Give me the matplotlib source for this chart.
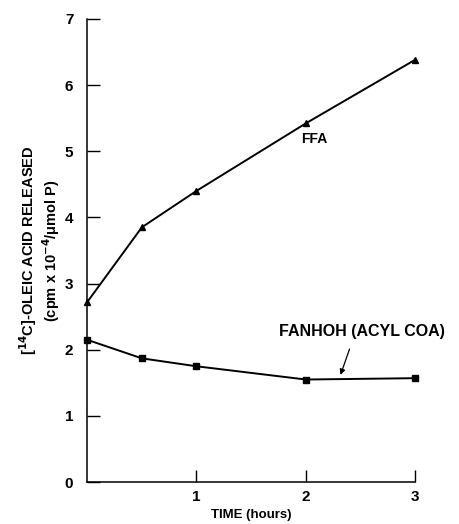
import matplotlib.pyplot as plt

plt.rcParams['font.family'] = ['Liberation Sans', 'DejaVu Sans']
plt.rcParams['font.weight'] = 'bold'

# data
time_h = [0, 0.5, 1, 2, 3]
ffa = [2.72, 3.85, 4.40, 5.42, 6.38]
fanhoh = [2.15, 1.87, 1.75, 1.55, 1.57]

fig = plt.figure(figsize=(4.59, 5.24), dpi=100)
ax = fig.add_axes([0.19, 0.080, 0.714, 0.884])

ax.plot(time_h, ffa, color='black', linewidth=1.4, marker='^', markersize=5, clip_on=False)
ax.plot(time_h, fanhoh, color='black', linewidth=1.4, marker='s', markersize=4, clip_on=False)

ax.set_xlim(0, 3)
ax.set_ylim(0, 7)
ax.set_xticks([1, 2, 3])
ax.set_yticks(range(0, 8))
ax.tick_params(direction='in', length=9, width=1, labelsize=11)
ax.tick_params(axis='x', pad=6)
ax.tick_params(axis='y', pad=10)
for s in ['top', 'right']:
    ax.spines[s].set_visible(False)
for s in ['left', 'bottom']:
    ax.spines[s].set_linewidth(1.1)

ax.text(1.96, 5.12, 'FFA', fontsize=10, fontweight='bold')
ax.text(1.76, 2.2, 'FANHOH (ACYL COA)', fontsize=11.5, fontweight='bold')
ax.annotate('', xy=(2.31, 1.58), xytext=(2.41, 2.05),
            arrowprops=dict(arrowstyle='-|>', color='black', lw=0.9,
                            mutation_scale=8))

ax.set_xlabel('TIME (hours)', fontsize=9.5, fontweight='bold', labelpad=3)
ax.set_ylabel('[$^{\\mathbf{14}}$C]-OLEIC ACID RELEASED\n(cpm x 10$^{\\mathbf{-4}}$/\u03bcmol P)',
              fontsize=10.5, fontweight='bold', labelpad=2, linespacing=1.1)

fig.savefig('out.png', dpi=100)
